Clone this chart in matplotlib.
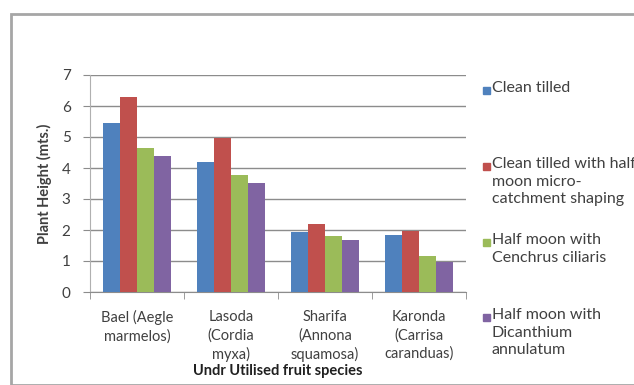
import numpy as np
import matplotlib.pyplot as plt
from matplotlib.patches import Rectangle

species = ["Bael (Aegle\nmarmelos)", "Lasoda\n(Cordia\nmyxa)",
           "Sharifa\n(Annona\nsquamosa)", "Karonda\n(Carrisa\ncaranduas)"]
treatments = ["Clean tilled",
              "Clean tilled with half\nmoon micro-\ncatchment shaping",
              "Half moon with\nCenchrus ciliaris",
              "Half moon with\nDicanthium\nannulatum"]
clean_tilled = [5.45, 4.18, 1.94, 1.85]
clean_tilled_halfmoon = [6.30, 4.97, 2.19, 1.96]
halfmoon_cenchrus = [4.63, 3.76, 1.81, 1.15]
halfmoon_dicanthium = [4.38, 3.51, 1.67, 0.96]
yticks = [0, 1, 2, 3, 4, 5, 6, 7]

series = [clean_tilled, clean_tilled_halfmoon, halfmoon_cenchrus, halfmoon_dicanthium]
colors = ["#4F81BD", "#C0504D", "#9BBB59", "#8064A2"]
txt = "#404040"

plt.rcParams['font.family'] = ['Lato', 'DejaVu Sans']

W, H = 634, 385
fig = plt.figure(figsize=(W / 100, H / 100), dpi=100)

# outer chart frame
fig.patches.append(Rectangle((11 / W, 0), 1, 1 - 14 / H, transform=fig.transFigure,
                             fill=False, edgecolor="#A6A6A6", linewidth=2))

ax = fig.add_axes([90 / W, 1 - 292 / H, 376 / W, 217 / H])

x = np.arange(len(species))
bw = 0.18
for i, (vals, c) in enumerate(zip(series, colors)):
    ax.bar(x + (i - 1.5) * bw, vals, bw, color=c, zorder=3)

ax.set_xlim(-0.5, len(species) - 0.5)
ax.set_ylim(0, 7)
ax.set_yticks(yticks)
ax.yaxis.grid(True, color="#8C8C8C", linewidth=1)
ax.set_axisbelow(True)
for s in ["top", "right"]:
    ax.spines[s].set_visible(False)
ax.spines["left"].set_color("#B0B0B0")
ax.spines["bottom"].set_color("#8C8C8C")

ax.set_xticks(x)
ax.set_xticklabels(species, fontsize=10.5, color=txt, linespacing=1.37)
ax.tick_params(axis="x", length=0, pad=13)
ax.set_xticks(np.arange(len(species) + 1) - 0.5, minor=True)
ax.tick_params(axis="x", which="minor", length=5, color="#8C8C8C")
ax.tick_params(axis="y", length=5, color="#8C8C8C", labelsize=11,
               labelcolor=txt, pad=9)

ax.set_ylabel("Plant Height (mts.)", fontsize=10.5, fontweight="bold", color=txt, labelpad=7)
ax.set_xlabel("Undr Utilised fruit species", fontsize=10.5, fontweight="bold",
              color="#202020", labelpad=1)

# legend entries, tops spaced evenly down the right side
tops = [90, 166, 242, 317]
for lab, c, y in zip(treatments, colors, tops):
    fig.patches.append(Rectangle((483 / W, 1 - (y + 4) / H), 7 / W, 7 / H,
                                 transform=fig.transFigure, color=c))
    fig.text(492 / W, 1 - (y - 9) / H, lab, fontsize=11.5, color=txt,
             va="top", ha="left", linespacing=1.32)

fig.savefig("out.png", dpi=100)
